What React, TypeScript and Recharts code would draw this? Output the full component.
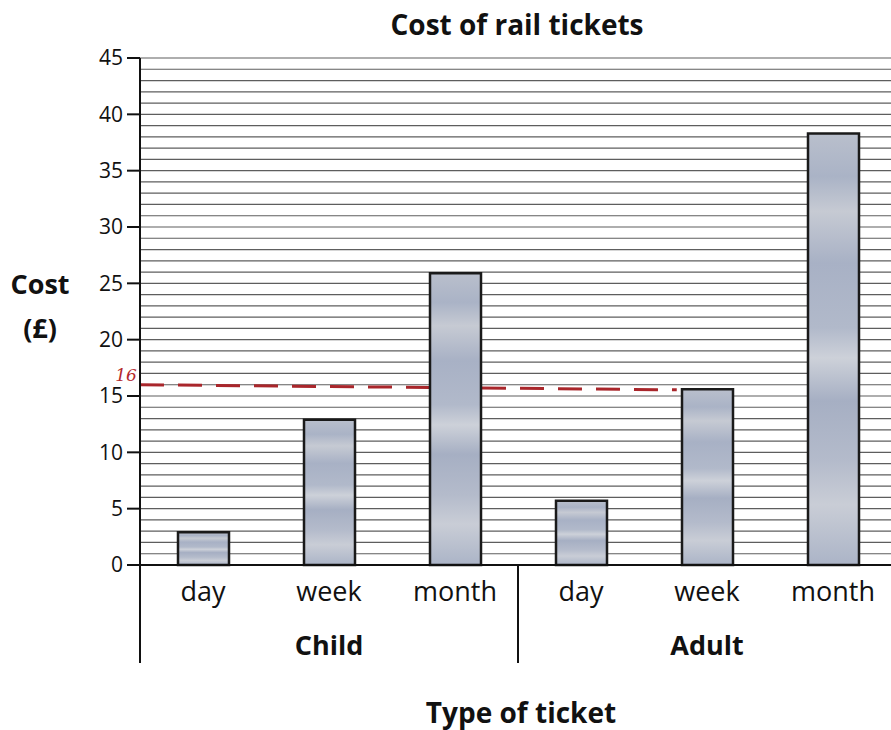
import { Bar, BarChart, CartesianGrid, ReferenceLine, XAxis, YAxis } from 'recharts';

const ticketTypes = ['day', 'week', 'month', 'day', 'week', 'month'];
const ticketGroups = ['Child', 'Child', 'Child', 'Adult', 'Adult', 'Adult'];
const costs = [2.9, 12.9, 25.9, 5.7, 15.6, 38.3];

const yTicks = [0, 5, 10, 15, 20, 25, 30, 35, 40, 45];
// ruled lines every £1
const gridValues = Array.from({ length: 46 }, (_, i) => i);

// hand-drawn red line at £16, anchored on two bars; it starts at the axis
// and stops just short of the adult week bar
const targetLine = [
  { x: 'Child-day', y: 15.95 },
  { x: 'Adult-week', y: 15.52 },
];
const targetReach = [-0.125, 0.94];
const targetLabel = '16';

const data = costs.map((cost, i) => ({
  key: `${ticketGroups[i]}-${ticketTypes[i]}`,
  cost,
}));

const FONT = "'Open Sans', 'Noto Sans', sans-serif";
const RED = '#a9262b';
const HALF_BAND = 63;

function TicketTick(props: any) {
  const { x, y, payload } = props;
  const index = payload.index ?? props.index;
  const half = payload.offset > 0 ? payload.offset : HALF_BAND;
  return (
    <g>
      <text x={x} y={y + 36} textAnchor="middle" fontFamily={FONT} fontSize={27} fill="#111">
        {ticketTypes[index]}
      </text>
      {index % 3 === 1 && (
        <text x={x} y={y + 90} textAnchor="middle" fontFamily={FONT} fontSize={27} fontWeight={700} fill="#111">
          {ticketGroups[index]}
        </text>
      )}
      {index % 3 === 0 && (
        <line x1={x - half} x2={x - half} y1={y} y2={y + 98} stroke="#111" strokeWidth={2} />
      )}
    </g>
  );
}

function TargetShape(props: any) {
  const { x1, y1, x2, y2 } = props;
  if (x1 == null || x2 == null) return null;
  const at = (t: number) => [x1 + t * (x2 - x1), y1 + t * (y2 - y1)];
  const [sx, sy] = at(targetReach[0]);
  const [ex, ey] = at(targetReach[1]);
  return (
    <g>
      <line
        x1={sx}
        y1={sy}
        x2={ex}
        y2={ey}
        stroke={RED}
        strokeWidth={3}
        strokeDasharray="24 14"
      />
      <text
        x={sx - 14}
        y={sy - 4}
        textAnchor="middle"
        fontFamily="'DejaVu Serif', serif"
        fontStyle="italic"
        fontSize={17}
        fill="#b3282d"
      >
        {targetLabel}
      </text>
    </g>
  );
}

export default function App() {
  return (
    <div
      style={{
        position: 'fixed',
        left: 0,
        top: 0,
        width: 891,
        height: 730,
        overflow: 'hidden',
        background: '#fff',
        fontFamily: FONT,
        color: '#111',
      }}
    >
      <div style={{ position: 'absolute', left: 0, top: 5, width: 1034, textAlign: 'center', fontSize: 28, fontWeight: 700 }}>
        Cost of rail tickets
      </div>
      <div style={{ position: 'absolute', left: 0, top: 262, width: 80, textAlign: 'center', fontSize: 27, fontWeight: 700, lineHeight: '44px' }}>
        Cost
        <br />
        (£)
      </div>
      <div style={{ position: 'absolute', left: 0, top: 693, width: 1042, textAlign: 'center', fontSize: 28, fontWeight: 700 }}>
        Type of ticket
      </div>

      <BarChart
        width={896}
        height={730}
        data={data}
        margin={{ top: 58, right: 0, bottom: 65, left: 0 }}
        style={{ position: 'absolute', left: 0, top: 0 }}
      >
        <defs>
          <linearGradient id="barFill" x1="0" y1="0" x2="0" y2="1">
            <stop offset="0" stopColor="#b9bfcc" />
            <stop offset="0.1" stopColor="#aab3c6" />
            <stop offset="0.18" stopColor="#c6cad3" />
            <stop offset="0.3" stopColor="#a8b1c5" />
            <stop offset="0.45" stopColor="#b1b9ca" />
            <stop offset="0.52" stopColor="#cdd1d9" />
            <stop offset="0.62" stopColor="#a6afc3" />
            <stop offset="0.76" stopColor="#b4bbcb" />
            <stop offset="0.86" stopColor="#c9cdd6" />
            <stop offset="1" stopColor="#abb4c7" />
          </linearGradient>
        </defs>
        <CartesianGrid
          vertical={false}
          horizontalValues={gridValues}
          stroke="#5e5e5e"
          strokeWidth={1.2}
        />
        <XAxis
          dataKey="key"
          height={100}
          interval={0}
          tickSize={0}
          tickMargin={0}
          tickLine={false}
          axisLine={{ stroke: '#111', strokeWidth: 2 }}
          tick={<TicketTick />}
        />
        <YAxis
          width={140}
          domain={[0, 45]}
          ticks={yTicks}
          interval={0}
          tickSize={13}
          tickMargin={4}
          axisLine={{ stroke: '#111', strokeWidth: 2 }}
          tickLine={{ stroke: '#111', strokeWidth: 2 }}
          tick={{ fontSize: 21, fill: '#111', fontFamily: FONT }}
        />
        <ReferenceLine
          segment={targetLine}
          ifOverflow="visible"
          zIndex={0}
          shape={<TargetShape />}
        />
        <Bar
          dataKey="cost"
          barSize={51}
          fill="url(#barFill)"
          stroke="#1a1a1a"
          strokeWidth={2.5}
          isAnimationActive={false}
        />
      </BarChart>
    </div>
  );
}
